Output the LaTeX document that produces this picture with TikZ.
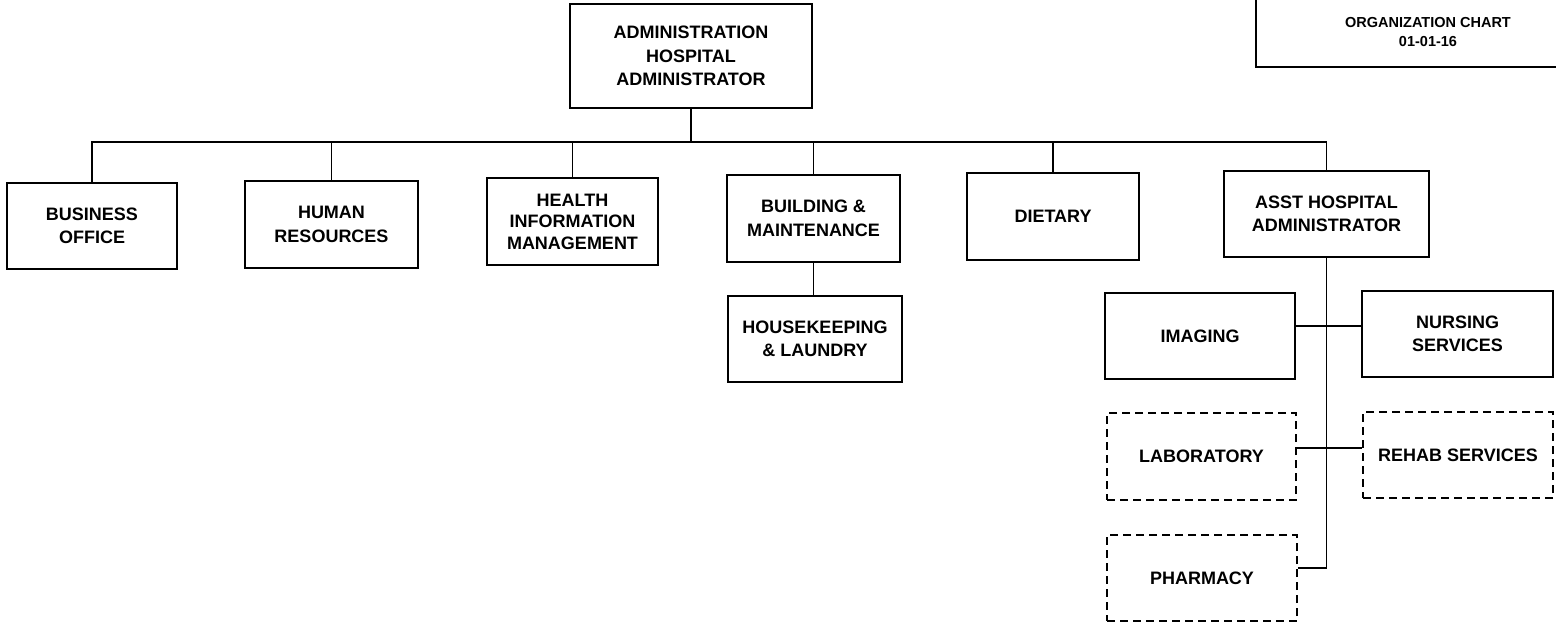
\documentclass[tikz,border=0pt]{standalone}
\usepackage{fontspec}
\setmainfont{Liberation Sans}
\begin{document}
\begin{tikzpicture}[x=1pt,y=-1pt,
  org/.style={draw, line width=1.3pt, align=center, inner sep=0pt,
    font=\bfseries\fontsize{18}{23.5}\selectfont},
  dashbox/.style={org, dash pattern=on 8pt off 5pt},
  conn/.style={line width=1.2pt},
  hdrtext/.style={align=center, inner sep=0pt, font=\bfseries\fontsize{14.5}{19}\selectfont}]
\useasboundingbox (0,0) rectangle (1556,624);
% header
\coordinate (hdrTL) at (1256,0);
\coordinate (hdrBR) at (1556,67);
\draw[line width=1.3pt] (hdrTL) |- (hdrBR);
\node[hdrtext] (hdr) at (1428,32.5) {ORGANIZATION CHART\\01-01-16};
% nodes
\node[org, minimum width=242pt, minimum height=104pt] (top) at (691,56) {ADMINISTRATION\\HOSPITAL\\ADMINISTRATOR};
\node[org, minimum width=170pt, minimum height=86pt] (bo) at (92,226) {BUSINESS\\OFFICE};
\node[org, minimum width=173pt, minimum height=87pt] (hr) at (331.5,224.5) {HUMAN\\RESOURCES};
\node[org, minimum width=171pt, minimum height=87pt, font=\bfseries\fontsize{18}{21.5}\selectfont] (him) at (572.5,221.5) {HEALTH\\INFORMATION\\MANAGEMENT};
\node[org, minimum width=173pt, minimum height=87pt] (bm) at (813.5,218.5) {BUILDING \&\\MAINTENANCE};
\node[org, minimum width=174pt, minimum height=86pt] (hk) at (815,339) {HOUSEKEEPING\\\& LAUNDRY};
\node[org, minimum width=172pt, minimum height=87pt] (diet) at (1053,216.5) {DIETARY};
\node[org, minimum width=205pt, minimum height=86pt] (asst) at (1326.5,214) {ASST HOSPITAL\\ADMINISTRATOR};
\node[org, minimum width=190pt, minimum height=86pt] (img) at (1200,336) {IMAGING};
\node[org, minimum width=191pt, minimum height=86pt] (nurs) at (1457.5,334) {NURSING\\SERVICES};
\node[dashbox, minimum width=189pt, minimum height=87pt] (lab) at (1201.5,456.5) {LABORATORY};
\node[dashbox, minimum width=190pt, minimum height=86pt] (rehab) at (1458,455) {REHAB SERVICES};
\node[dashbox, minimum width=190pt, minimum height=86pt] (pharm) at (1202,578) {PHARMACY};
% connectors
\coordinate (bus) at (0,142);
\coordinate (ln1) at (0,326);
\coordinate (ln2) at (0,448);
\coordinate (ln3) at (0,568);
\draw[conn] (top.south) -- (top.south |- bus);
\draw[conn] (bo.north) |- (asst.north |- bus) -- (asst.north);
\draw[conn] (hr.north) -- (hr.north |- bus);
\draw[conn] (him.north) -- (him.north |- bus);
\draw[conn] (bm.north) -- (bm.north |- bus);
\draw[conn] (diet.north) -- (diet.north |- bus);
\draw[conn] (bm.south) -- (bm.south |- hk.north);
\draw[conn] (asst.south) -- (asst.south |- ln3) -- (pharm.east |- ln3);
\draw[conn] (img.east |- ln1) -- (nurs.west |- ln1);
\draw[conn] (lab.east |- ln2) -- (rehab.west |- ln2);
\end{tikzpicture}
\end{document}
